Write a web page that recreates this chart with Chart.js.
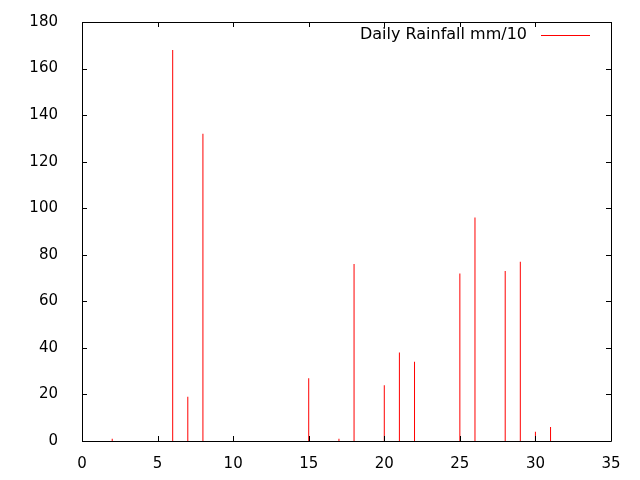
<!DOCTYPE html>
<html>
<head>
<meta charset="utf-8">
<script src="https://cdn.jsdelivr.net/npm/chart.js@4/dist/chart.umd.min.js"></script>
<style>
  body { margin: 0; background: #fff; }
  canvas { display: block; }
</style>
</head>
<body>
<canvas id="rainChart" width="640" height="480"></canvas>
<script>
// Day of month and daily rainfall (mm/10)
const days = [1, 2, 3, 4, 5, 6, 7, 8, 9, 10, 11, 12, 13, 14, 15, 16, 17, 18, 19, 20, 21, 22, 23, 24, 25, 26, 27, 28, 29, 30, 31];
const rainfall = [0, 1, 0, 0, 0, 168, 19, 132, 0, 0, 0, 0, 0, 0, 27, 0, 1, 76, 0, 24, 38, 34, 0, 0, 72, 96, 0, 73, 77, 4, 6];
const seriesLabel = 'Daily Rainfall mm/10';

const FONT = 'DejaVu Sans';

// gnuplot style frame: border + inward ticks on all four sides, plus key inside the plot
const framePlugin = {
    id: 'frame',
    afterDraw(chart) {
        const ctx = chart.ctx;
        const a = chart.chartArea;
        const xs = chart.scales.x, ys = chart.scales.y;
        const len = 5;
        ctx.save();
        ctx.strokeStyle = '#000';
        ctx.lineWidth = 1;
        ctx.beginPath();
        ctx.rect(Math.round(a.left) + 0.5, Math.round(a.top) + 0.5,
                 Math.round(a.right - a.left), Math.round(a.bottom - a.top));
        xs.ticks.forEach(t => {
            const px = Math.round(xs.getPixelForValue(t.value)) + 0.5;
            ctx.moveTo(px, a.bottom); ctx.lineTo(px, a.bottom - len);
            ctx.moveTo(px, a.top); ctx.lineTo(px, a.top + len);
        });
        ys.ticks.forEach(t => {
            const py = Math.round(ys.getPixelForValue(t.value)) + 0.5;
            ctx.moveTo(a.left, py); ctx.lineTo(a.left + len, py);
            ctx.moveTo(a.right, py); ctx.lineTo(a.right - len, py);
        });
        ctx.stroke();

        // key
        const ly = a.top + 13;
        ctx.font = '16px "' + FONT + '"';
        ctx.fillStyle = '#000';
        ctx.textAlign = 'right';
        ctx.textBaseline = 'middle';
        ctx.fillText(seriesLabel, a.right - 84, ly);
        ctx.strokeStyle = '#ff0000';
        ctx.beginPath();
        ctx.moveTo(a.right - 70, ly + 0.5);
        ctx.lineTo(a.right - 21, ly + 0.5);
        ctx.stroke();
        ctx.restore();
    }
};

const ctx = document.getElementById('rainChart').getContext('2d');
const rainChart = new Chart(ctx, {
    type: 'bar',
    data: {
        datasets: [{
            label: seriesLabel,
            // dry days draw nothing in the reference
            data: days.map((d, i) => ({ x: d, y: rainfall[i] })).filter(p => p.y > 0),
            backgroundColor: '#ff0000',
            borderWidth: 0,
            inflateAmount: 0,
            barThickness: 1
        }]
    },
    options: {
        responsive: false,
        animation: false,
        devicePixelRatio: 1,
        layout: { padding: { top: 22, right: 29, left: 0, bottom: 0 } },
        plugins: {
            legend: { display: false },
            tooltip: { enabled: false }
        },
        scales: {
            x: {
                type: 'linear',
                offset: false,
                min: 0,
                max: 35,
                ticks: { stepSize: 5, color: '#000', padding: 6, font: { family: FONT, size: 15 } },
                grid: { display: false },
                border: { display: false },
                afterFit(scale) { scale.height = 39; }
            },
            y: {
                min: 0,
                max: 180,
                ticks: { stepSize: 20, color: '#000', padding: 16, font: { family: FONT, size: 15 } },
                grid: { display: false },
                border: { display: false },
                afterFit(scale) {
                    scale.width = 82;
                    // tick padding would otherwise push the plot top down
                    scale.paddingTop = 0;
                    scale.paddingBottom = 0;
                }
            }
        }
    },
    plugins: [framePlugin]
});
</script>
</body>
</html>
